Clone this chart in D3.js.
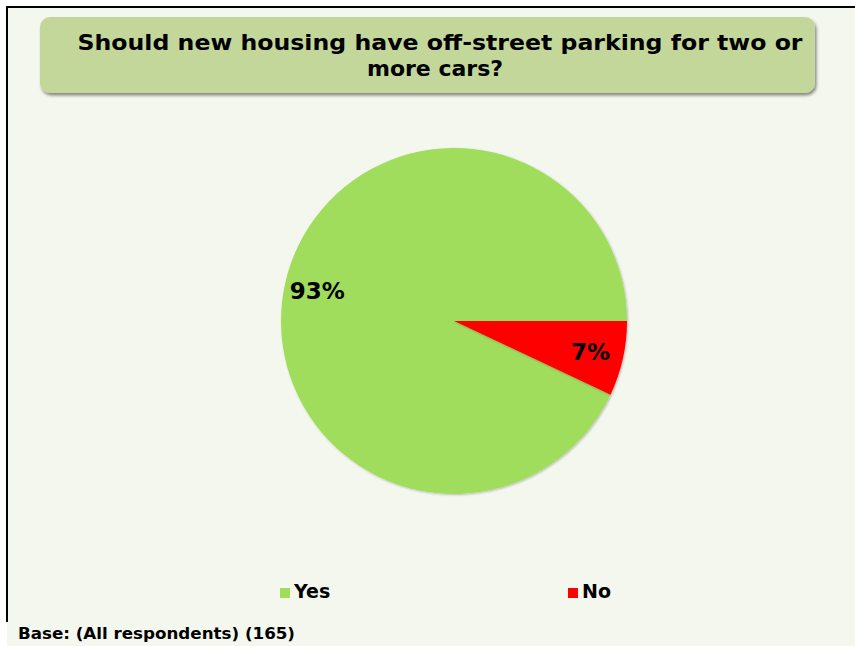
<!DOCTYPE html>
<html>
<head>
<meta charset="utf-8">
<script src="https://cdn.jsdelivr.net/npm/d3@7"></script>
<style>
  html, body { margin: 0; padding: 0; background: #ffffff; }
  svg { display: block; }
</style>
</head>
<body>
<script>
// Survey answers
const categories = ["Yes", "No"];
const shares = [93, 7];
const valueLabels = ["93%", "7%"];
const colours = ["#a0dd5b", "#ff0000"];
const titleLines = ["Should new housing have off-street parking for two or", "more cars?"];
const baseNote = "Base: (All respondents) (165)";

const W = 855, H = 646;
const svg = d3.select("body").append("svg").attr("width", W).attr("height", H);
const font = "'DejaVu Sans', Verdana, sans-serif";

const defs = svg.append("defs");
const sh = defs.append("filter").attr("id", "shadow").attr("x", "-5%").attr("y", "-20%").attr("width", "110%").attr("height", "150%");
sh.append("feDropShadow").attr("dx", 1.5).attr("dy", 2.5).attr("stdDeviation", 1.5).attr("flood-color", "#000").attr("flood-opacity", 0.45);
const psh = defs.append("filter").attr("id", "pieShadow").attr("x", "-10%").attr("y", "-10%").attr("width", "120%").attr("height", "120%");
psh.append("feDropShadow").attr("dx", 1).attr("dy", 1).attr("stdDeviation", 1.2).attr("flood-color", "#000").attr("flood-opacity", 0.25);

// Chart area background and frame (top and left edges)
svg.append("rect").attr("x", 7).attr("y", 7).attr("width", W - 7).attr("height", H - 7).attr("fill", "#f4f7ee");
svg.append("line").attr("x1", 7).attr("x2", W).attr("y1", 7).attr("y2", 7).attr("stroke", "#000").attr("stroke-width", 2);
svg.append("line").attr("x1", 7).attr("x2", 7).attr("y1", 6).attr("y2", 622).attr("stroke", "#000").attr("stroke-width", 2);

// Title box
svg.append("rect").attr("x", 40).attr("y", 17).attr("width", 775).attr("height", 76)
  .attr("rx", 10).attr("fill", "#c4d79b").attr("filter", "url(#shadow)");
svg.append("g").selectAll("text").data(titleLines).join("text")
  .attr("x", (d, i) => i === 0 ? 440 : 435).attr("y", (d, i) => 50 + i * 26)
  .attr("text-anchor", "middle")
  .attr("font-family", font).attr("font-weight", "bold").attr("font-size", 22)
  .attr("fill", "#000")
  .attr("textLength", (d, i) => i === 0 ? 725 : null)
  .attr("lengthAdjust", "spacingAndGlyphs")
  .text(d => d);

// Pie
const cx = 454, cy = 321, r = 173;
const pie = d3.pie().sort(null)
  .startAngle(Math.PI / 2 + 2 * Math.PI * shares[1] / 100)
  .endAngle(Math.PI / 2 + 2 * Math.PI * shares[1] / 100 + 2 * Math.PI);
const arcs = pie(shares);
const arc = d3.arc().innerRadius(0).outerRadius(r);
const labelArc = d3.arc().innerRadius(140).outerRadius(140);
const g = svg.append("g").attr("transform", `translate(${cx},${cy})`);
g.selectAll("path").data(arcs).join("path")
  .attr("d", arc).attr("fill", (d, i) => colours[i]).attr("filter", "url(#pieShadow)");
g.selectAll("text").data(arcs).join("text")
  .attr("transform", d => `translate(${labelArc.centroid(d)})`)
  .attr("text-anchor", "middle").attr("dy", "0.36em")
  .attr("font-family", font).attr("font-weight", "bold").attr("font-size", 23)
  .attr("fill", "#000")
  .text((d, i) => valueLabels[i]);

// Legend
const legendX = d3.scalePoint().domain(categories).range([280, 568]);
const lg = svg.append("g").selectAll("g").data(categories).join("g")
  .attr("transform", d => `translate(${legendX(d)},588)`);
lg.append("rect").attr("width", 10).attr("height", 10).attr("fill", (d, i) => colours[i]);
lg.append("text").attr("x", 14).attr("y", 10)
  .attr("font-family", font).attr("font-weight", "bold").attr("font-size", 19)
  .attr("fill", "#000").text(d => d);

// Base note
svg.append("text").attr("x", 18).attr("y", 639)
  .attr("font-family", font).attr("font-weight", "bold").attr("font-size", 16)
  .attr("textLength", 277).attr("lengthAdjust", "spacingAndGlyphs")
  .attr("fill", "#000").text(baseNote);
</script>
</body>
</html>
